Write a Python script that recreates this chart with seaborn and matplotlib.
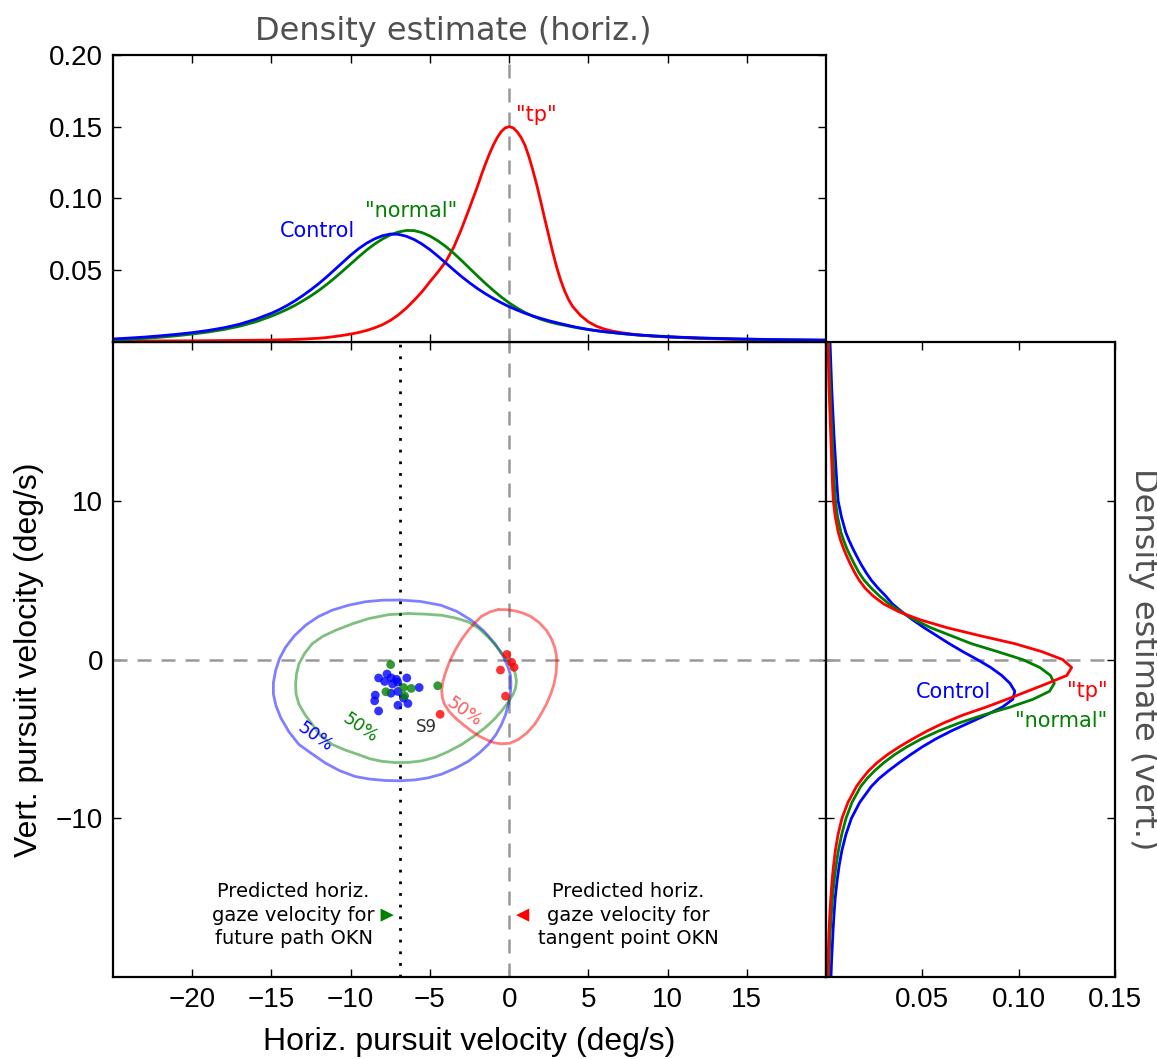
import numpy as np
import pandas as pd
import seaborn as sns
import matplotlib.pyplot as plt
from matplotlib.ticker import FormatStrFormatter

sns.set_theme(style='ticks', rc={
    'axes.edgecolor': 'black', 'axes.linewidth': 1.6,
    'xtick.direction': 'in', 'ytick.direction': 'in',
    'xtick.top': True, 'ytick.right': True,
    'xtick.major.size': 6, 'ytick.major.size': 6,
    'xtick.major.width': 1.0, 'ytick.major.width': 1.0,
    'xtick.major.pad': 7, 'ytick.major.pad': 7,
    'xtick.color': 'black', 'ytick.color': 'black',
    'text.color': 'black', 'axes.labelcolor': 'black',
})
plt.rcParams['font.family'] = ['Liberation Sans', 'DejaVu Sans']

BLUE, GREEN, RED = '#0000ff', '#008000', '#ff0000'
GREY = '#999999'
TEXT_FONT = 'DejaVu Sans'

# horizontal velocity density (top panel)
horiz_x = [-25, -24, -23, -22, -21, -20, -19, -18, -17, -16,
           -15, -14.5, -14, -13.5, -13, -12.5, -12, -11.5, -11, -10.5,
           -10, -9.5, -9, -8.5, -8, -7.5, -7, -6.5, -6, -5.5,
           -5, -4.5, -4, -3.5, -3, -2.5, -2, -1.5, -1, -0.5,
           0, 0.5, 1, 1.5, 2, 2.5, 3, 3.5, 4, 4.5, 5, 5.5, 6, 6.5, 7, 7.5, 8,
           9, 10, 11, 12, 13, 14, 15, 16, 17, 18, 19, 20]
horiz_control = [0.0021, 0.0027, 0.0034, 0.0043, 0.0053, 0.0065, 0.0080, 0.0099, 0.0124, 0.0158,
                 0.0200, 0.0226, 0.0255, 0.0288, 0.0325, 0.0365, 0.0408, 0.0455, 0.0505, 0.0555,
                 0.0605, 0.0650, 0.0688, 0.0718, 0.0740, 0.0752, 0.0750, 0.0737, 0.0714, 0.0682,
                 0.0643, 0.0598, 0.0550, 0.0502, 0.0455, 0.0412, 0.0372, 0.0336, 0.0303, 0.0273,
                 0.0246, 0.0222, 0.0200, 0.0181, 0.0164, 0.0148, 0.0134, 0.0121, 0.0108, 0.0097,
                 0.0087, 0.0079, 0.0072, 0.0066, 0.0060, 0.0055, 0.0050,
                 0.0043, 0.0037, 0.0032, 0.0028, 0.0025, 0.0022, 0.0020, 0.0018, 0.0016, 0.0015,
                 0.0014, 0.0013]
horiz_normal = [0.0014, 0.0019, 0.0025, 0.0033, 0.0043, 0.0055, 0.0069, 0.0087, 0.0110, 0.0140,
                0.0180, 0.0203, 0.0228, 0.0256, 0.0288, 0.0322, 0.0360, 0.0402, 0.0447, 0.0495,
                0.0544, 0.0593, 0.0640, 0.0682, 0.0717, 0.0746, 0.0766, 0.0777, 0.0776, 0.0762,
                0.0738, 0.0705, 0.0665, 0.0618, 0.0567, 0.0513, 0.0460, 0.0408, 0.0359, 0.0313,
                0.0272, 0.0236, 0.0205, 0.0179, 0.0158, 0.0141, 0.0127, 0.0116, 0.0105, 0.0095,
                0.0086, 0.0078, 0.0071, 0.0065, 0.0059, 0.0054, 0.0049,
                0.0042, 0.0036, 0.0031, 0.0027, 0.0024, 0.0021, 0.0019, 0.0017, 0.0015, 0.0014,
                0.0013, 0.0012]
tp_horiz_x = [-25, -22.5, -20, -18, -16, -15, -14, -13, -12, -11.5, -11, -10.5, -10, -9.5, -9,
              -8.5, -8, -7.5, -7, -6.5, -6, -5.5, -5, -4.5, -4, -3.5, -3, -2.5, -2, -1.75, -1.5,
              -1.25, -1, -0.75, -0.5, -0.25, 0, 0.25, 0.5, 0.75, 1, 1.25, 1.5, 1.75, 2, 2.25,
              2.5, 2.75, 3, 3.25, 3.5, 3.75, 4, 4.5, 5, 5.5, 6, 6.5, 7, 8, 9, 10, 12, 14, 16,
              18, 20]
horiz_tp = [0.0006, 0.0007, 0.0008, 0.0010, 0.0012, 0.0013, 0.0016, 0.0020, 0.0026, 0.0031,
            0.0038, 0.0046, 0.0055, 0.0066, 0.0080, 0.0098, 0.0120, 0.0150, 0.0188, 0.0235,
            0.0290, 0.0350, 0.0420, 0.0487, 0.0560, 0.0660, 0.0790, 0.0935, 0.1085, 0.1165,
            0.1240, 0.1310, 0.1372, 0.1425, 0.1466, 0.1492, 0.1500, 0.1492, 0.1465, 0.1425,
            0.1370, 0.1290, 0.1195, 0.1090, 0.0975, 0.0855, 0.0740, 0.0625, 0.0520, 0.0430,
            0.0355, 0.0295, 0.0248, 0.0185, 0.0140, 0.0110, 0.0090, 0.0076, 0.0066, 0.0051,
            0.0041, 0.0034, 0.0025, 0.0019, 0.0015, 0.0012, 0.0010]

# vertical velocity density (right panel)
vert_y = [20, 19, 18, 17, 16, 15, 14, 13, 12, 11, 10, 9,
          8, 7.5, 7, 6.5, 6, 5.5, 5, 4.5, 4, 3.5, 3, 2.5, 2, 1.5, 1, 0.5, 0,
          -0.5, -1, -1.5, -2, -2.5, -3, -3.5, -4, -4.5, -5, -5.5, -6, -6.5, -7, -7.5, -8,
          -9, -10, -11, -12, -13, -14, -15, -16, -17, -18, -19, -20]
vert_control = [0.0021, 0.0024, 0.0027, 0.0030, 0.0034, 0.0038, 0.0042, 0.0047, 0.0052, 0.0057,
                0.0063, 0.0080,
                0.0103, 0.0120, 0.0139, 0.0160, 0.0182, 0.0207, 0.0235, 0.0270, 0.0310, 0.0345,
                0.0395, 0.0450, 0.0510, 0.0575, 0.0640, 0.0710, 0.0785,
                0.0855, 0.0912, 0.0955, 0.0980, 0.0970, 0.0915, 0.0830, 0.0740, 0.0650, 0.0570,
                0.0500, 0.0438, 0.0380, 0.0325, 0.0275, 0.0235,
                0.0175, 0.0132, 0.0104, 0.0083, 0.0068, 0.0057, 0.0048, 0.0042, 0.0037, 0.0033,
                0.0029, 0.0026]
vert_normal = [0.0014, 0.0016, 0.0019, 0.0022, 0.0025, 0.0028, 0.0032, 0.0036, 0.0040, 0.0044,
               0.0049, 0.0060,
               0.0078, 0.0092, 0.0108, 0.0127, 0.0148, 0.0170, 0.0198, 0.0235, 0.0278, 0.0328,
               0.0390, 0.0460, 0.0545, 0.0650, 0.0755, 0.0890, 0.1020,
               0.1110, 0.1165, 0.1185, 0.1160, 0.1075, 0.0955, 0.0815, 0.0690, 0.0585, 0.0495,
               0.0420, 0.0355, 0.0300, 0.0253, 0.0213, 0.0180,
               0.0135, 0.0104, 0.0082, 0.0065, 0.0052, 0.0042, 0.0034, 0.0028, 0.0023, 0.0019,
               0.0016, 0.0014]
vert_tp = [0.0010, 0.0012, 0.0014, 0.0016, 0.0019, 0.0022, 0.0025, 0.0028, 0.0031, 0.0034,
           0.0038, 0.0048,
           0.0064, 0.0076, 0.0091, 0.0108, 0.0127, 0.0148, 0.0172, 0.0203, 0.0245, 0.0300,
           0.0380, 0.0490, 0.0630, 0.0800, 0.0980, 0.1120, 0.1228,
           0.1275, 0.1250, 0.1150, 0.1045, 0.0940, 0.0830, 0.0710, 0.0610, 0.0525, 0.0450,
           0.0380, 0.0318, 0.0265, 0.0222, 0.0188, 0.0158,
           0.0114, 0.0083, 0.0063, 0.0049, 0.0039, 0.0031, 0.0025, 0.0020, 0.0016, 0.0013,
           0.0011, 0.0009]

# per-subject mean pursuit velocities
control_x = [-8.24, -7.71, -7.44, -7.86, -7.11, -7.36, -7.04, -6.46, -5.68, -7.46, -7.02, -6.67,
             -8.45, -8.49, -8.24, -7.02, -6.39]
control_y = [-1.16, -0.91, -1.16, -1.38, -1.25, -1.54, -1.42, -1.16, -1.76, -2.12, -2.01, -2.43,
             -2.24, -2.60, -3.24, -2.88, -2.77]
normal_x = [-7.48, -7.78, -6.67, -6.18, -6.60, -4.51]
normal_y = [-0.32, -2.03, -1.76, -1.82, -2.29, -1.65]
tp_x = [-0.55, -0.23, -4.36, -0.15, 0.15, 0.31]
tp_y = [-0.66, -2.31, -3.45, 0.32, -0.17, -0.49]

# 50% contours
control_cx = [-6.9, -5.6, -4.3, -3.3, -2.4, -1.6, -0.9, -0.4, -0.06, 0.08, 0.11, 0.07, -0.05,
              -0.22, -0.48, -0.85, -1.32, -1.9, -2.58, -3.4, -4.26, -5.1, -5.93, -6.9, -7.82,
              -8.8, -9.71, -10.7, -11.6, -12.5, -13.27, -13.9, -14.42, -14.72, -14.88, -14.88,
              -14.74, -14.5, -14.11, -13.55, -12.85, -12.05, -11.17, -10.15, -9.08, -8.0]
control_cy = [3.75, 3.66, 3.42, 3.03, 2.48, 1.8, 1.0, 0.25, -0.5, -1.0, -1.55, -2.2, -2.8,
              -3.45, -4.08, -4.75, -5.35, -5.9, -6.41, -6.85, -7.22, -7.45, -7.58, -7.64, -7.62,
              -7.53, -7.37, -7.0, -6.52, -5.9, -5.35, -4.55, -3.66, -2.9, -2.18, -1.45,
              -0.70, 0.05, 0.78, 1.5, 2.16, 2.7, 3.11, 3.42, 3.64, 3.74]
normal_cx = [-6.35, -5.3, -4.26, -3.4, -2.58, -1.9, -1.32, -0.78, -0.27, 0.1, 0.36, 0.46, 0.4,
             0.25, -0.07, -0.48, -0.98, -1.53, -2.25, -3.0, -3.85, -4.67, -5.5, -6.35, -7.2,
             -8.03, -8.8, -9.5, -10.35, -11.17, -11.9, -12.43, -12.9, -13.27, -13.45, -13.48,
             -13.42, -13.27, -12.9, -12.43, -11.75, -10.96, -9.9, -8.87, -7.61]
normal_cy = [2.90, 2.86, 2.79, 2.62, 2.37, 1.95, 1.42, 0.8, 0.15, -0.35, -0.80, -1.33, -1.8,
             -2.18, -2.7, -3.24, -3.8, -4.30, -4.85, -5.35, -5.8, -6.16, -6.38, -6.48, -6.49,
             -6.41, -6.25, -5.99, -5.7, -5.35, -4.8, -4.08, -3.45, -2.81, -2.18, -1.54,
             -0.9, -0.27, 0.4, 1.0, 1.47, 1.84, 2.25, 2.58, 2.83]
tp_cx = [-0.69, -0.15, 0.36, 0.9, 1.40, 1.9, 2.35, 2.66, 2.87, 2.98, 3.0, 2.95, 2.83, 2.62,
         2.35, 2.0, 1.61, 1.12, 0.57, 0.05, -0.48, -0.9, -1.32, -1.85, -2.37, -2.9, -3.42,
         -3.8, -4.09, -4.22, -4.26, -4.2, -4.05, -3.78, -3.42, -3.02, -2.58, -2.15, -1.74, -1.22]
tp_cy = [3.15, 3.14, 3.07, 2.92, 2.69, 2.32, 1.84, 1.32, 0.78, 0.25, -0.27, -0.9, -1.54, -2.18,
         -2.81, -3.45, -4.08, -4.62, -5.04, -5.27, -5.31, -5.25, -5.10, -4.85, -4.51, -4.1,
         -3.66, -3.25, -2.81, -2.4, -1.97, -1.45, -0.91, -0.17, 0.57, 1.25, 1.84, 2.33, 2.73,
         3.0]

future_path_okn = -6.9
marker_y = -16.1
future_marker_x = -7.7
tp_marker_x = 0.85


def closed(xs, ys):
    return pd.DataFrame({'x': xs + xs[:1], 'y': ys + ys[:1]})


fig = plt.figure(figsize=(11.57, 10.59), dpi=100)
ax = fig.add_axes([0.0977, 0.0774, 0.6163, 0.5996])
ax_top = fig.add_axes([0.0977, 0.6771, 0.6163, 0.2710], sharex=ax)
ax_right = fig.add_axes([0.7139, 0.0774, 0.2498, 0.5996], sharey=ax)

dash = dict(color=GREY, lw=1.8, ls=(0, (5.6, 4)), zorder=1)

# main panel
ax.axvline(0, **dash)
ax.axhline(0, **dash)
ax.axvline(future_path_okn, color='black', lw=2, ls=(0, (1, 3.2)), zorder=1)
for cx, cy, col in [(control_cx, control_cy, BLUE), (normal_cx, normal_cy, GREEN),
                    (tp_cx, tp_cy, RED)]:
    sns.lineplot(data=closed(cx, cy), x='x', y='y', sort=False, estimator=None,
                 color=col, alpha=0.5, lw=2, ax=ax)
for px, py, col in [(control_x, control_y, BLUE), (normal_x, normal_y, GREEN), (tp_x, tp_y, RED)]:
    sns.scatterplot(x=px, y=py, color=col, alpha=0.8, s=40, edgecolor='none', ax=ax, zorder=3)
sns.scatterplot(x=[future_marker_x], y=[marker_y], marker='>', color=GREEN, s=90,
                edgecolor='none', ax=ax)
sns.scatterplot(x=[tp_marker_x], y=[marker_y], marker='<', color=RED, s=90,
                edgecolor='none', ax=ax)

ax.text(-13.6, marker_y, 'Predicted horiz.\ngaze velocity for\nfuture path OKN', ha='center',
        va='center', fontsize=14, family=TEXT_FONT, linespacing=1.3)
ax.text(7.5, marker_y, 'Predicted horiz.\ngaze velocity for\ntangent point OKN', ha='center',
        va='center', fontsize=14, family=TEXT_FONT, linespacing=1.3)
ax.text(-12.2, -4.9, '50%', color=BLUE, fontsize=12.5, family=TEXT_FONT, rotation=-35,
        ha='center', va='center')
ax.text(-9.4, -4.3, '50%', color=GREEN, fontsize=12.5, family=TEXT_FONT, rotation=-35,
        ha='center', va='center')
ax.text(-2.8, -3.3, '50%', color='#ff5a5a', fontsize=12.5, family=TEXT_FONT, rotation=-35,
        ha='center', va='center')
ax.text(-5.2, -4.25, 'S9', color='#333333', fontsize=12, family=TEXT_FONT, ha='center',
        va='center')

ax.set_xlim(-25, 20)
ax.set_ylim(-20, 20)
ax.set_xticks(range(-20, 20, 5))
ax.set_yticks([-10, 0, 10])
ax.tick_params(labelsize=20)
ax.set_xlabel('Horiz. pursuit velocity (deg/s)', fontsize=23, labelpad=10)
ax.set_ylabel('Vert. pursuit velocity (deg/s)', fontsize=23, labelpad=9)

# top panel
ax_top.axvline(0, **dash)
sns.lineplot(x=tp_horiz_x, y=horiz_tp, color=RED, lw=2, ax=ax_top)
sns.lineplot(x=horiz_x, y=horiz_normal, color=GREEN, lw=2, ax=ax_top)
sns.lineplot(x=horiz_x, y=horiz_control, color=BLUE, lw=2, ax=ax_top)
ax_top.text(-12.1, 0.077, 'Control', color=BLUE, fontsize=15, family=TEXT_FONT,
            ha='center', va='center')
ax_top.text(-6.2, 0.091, '"normal"', color=GREEN, fontsize=15, family=TEXT_FONT,
            ha='center', va='center')
ax_top.text(1.7, 0.158, '"tp"', color=RED, fontsize=15, family=TEXT_FONT,
            ha='center', va='center')
ax_top.set_ylim(0, 0.2)
ax_top.set_yticks([0.05, 0.10, 0.15, 0.20])
ax_top.yaxis.set_major_formatter(FormatStrFormatter('%.2f'))
ax_top.tick_params(labelbottom=False, labelsize=20)
ax_top.set_title('Density estimate (horiz.)', fontsize=23, color='#505050',
                 family=TEXT_FONT, pad=11, x=0.477)

# right panel
ax_right.axhline(0, **dash)
sns.lineplot(x=vert_control, y=vert_y, orient='y', color=BLUE, lw=2, ax=ax_right)
sns.lineplot(x=vert_normal, y=vert_y, orient='y', color=GREEN, lw=2, ax=ax_right)
sns.lineplot(x=vert_tp, y=vert_y, orient='y', color=RED, lw=2, ax=ax_right)
ax_right.text(0.066, -2.07, 'Control', color=BLUE, fontsize=15, family=TEXT_FONT,
              ha='center', va='center')
ax_right.text(0.1355, -1.97, '"tp"', color=RED, fontsize=15, family=TEXT_FONT,
              ha='center', va='center')
ax_right.text(0.122, -3.87, '"normal"', color=GREEN, fontsize=15, family=TEXT_FONT,
              ha='center', va='center')
ax_right.set_xlim(0, 0.15)
ax_right.set_xticks([0.05, 0.10, 0.15])
ax_right.xaxis.set_major_formatter(FormatStrFormatter('%.2f'))
ax_right.tick_params(labelleft=False, labelsize=20)
ax_right.set_ylabel('')
ax_right.text(1.045, 0.5, 'Density estimate (vert.)', transform=ax_right.transAxes,
              rotation=270, ha='left', va='center', fontsize=23, color='#505050',
              family=TEXT_FONT)

for a in (ax, ax_top, ax_right):
    for s in a.spines.values():
        s.set_visible(True)

fig.savefig('out.png', dpi=100)
